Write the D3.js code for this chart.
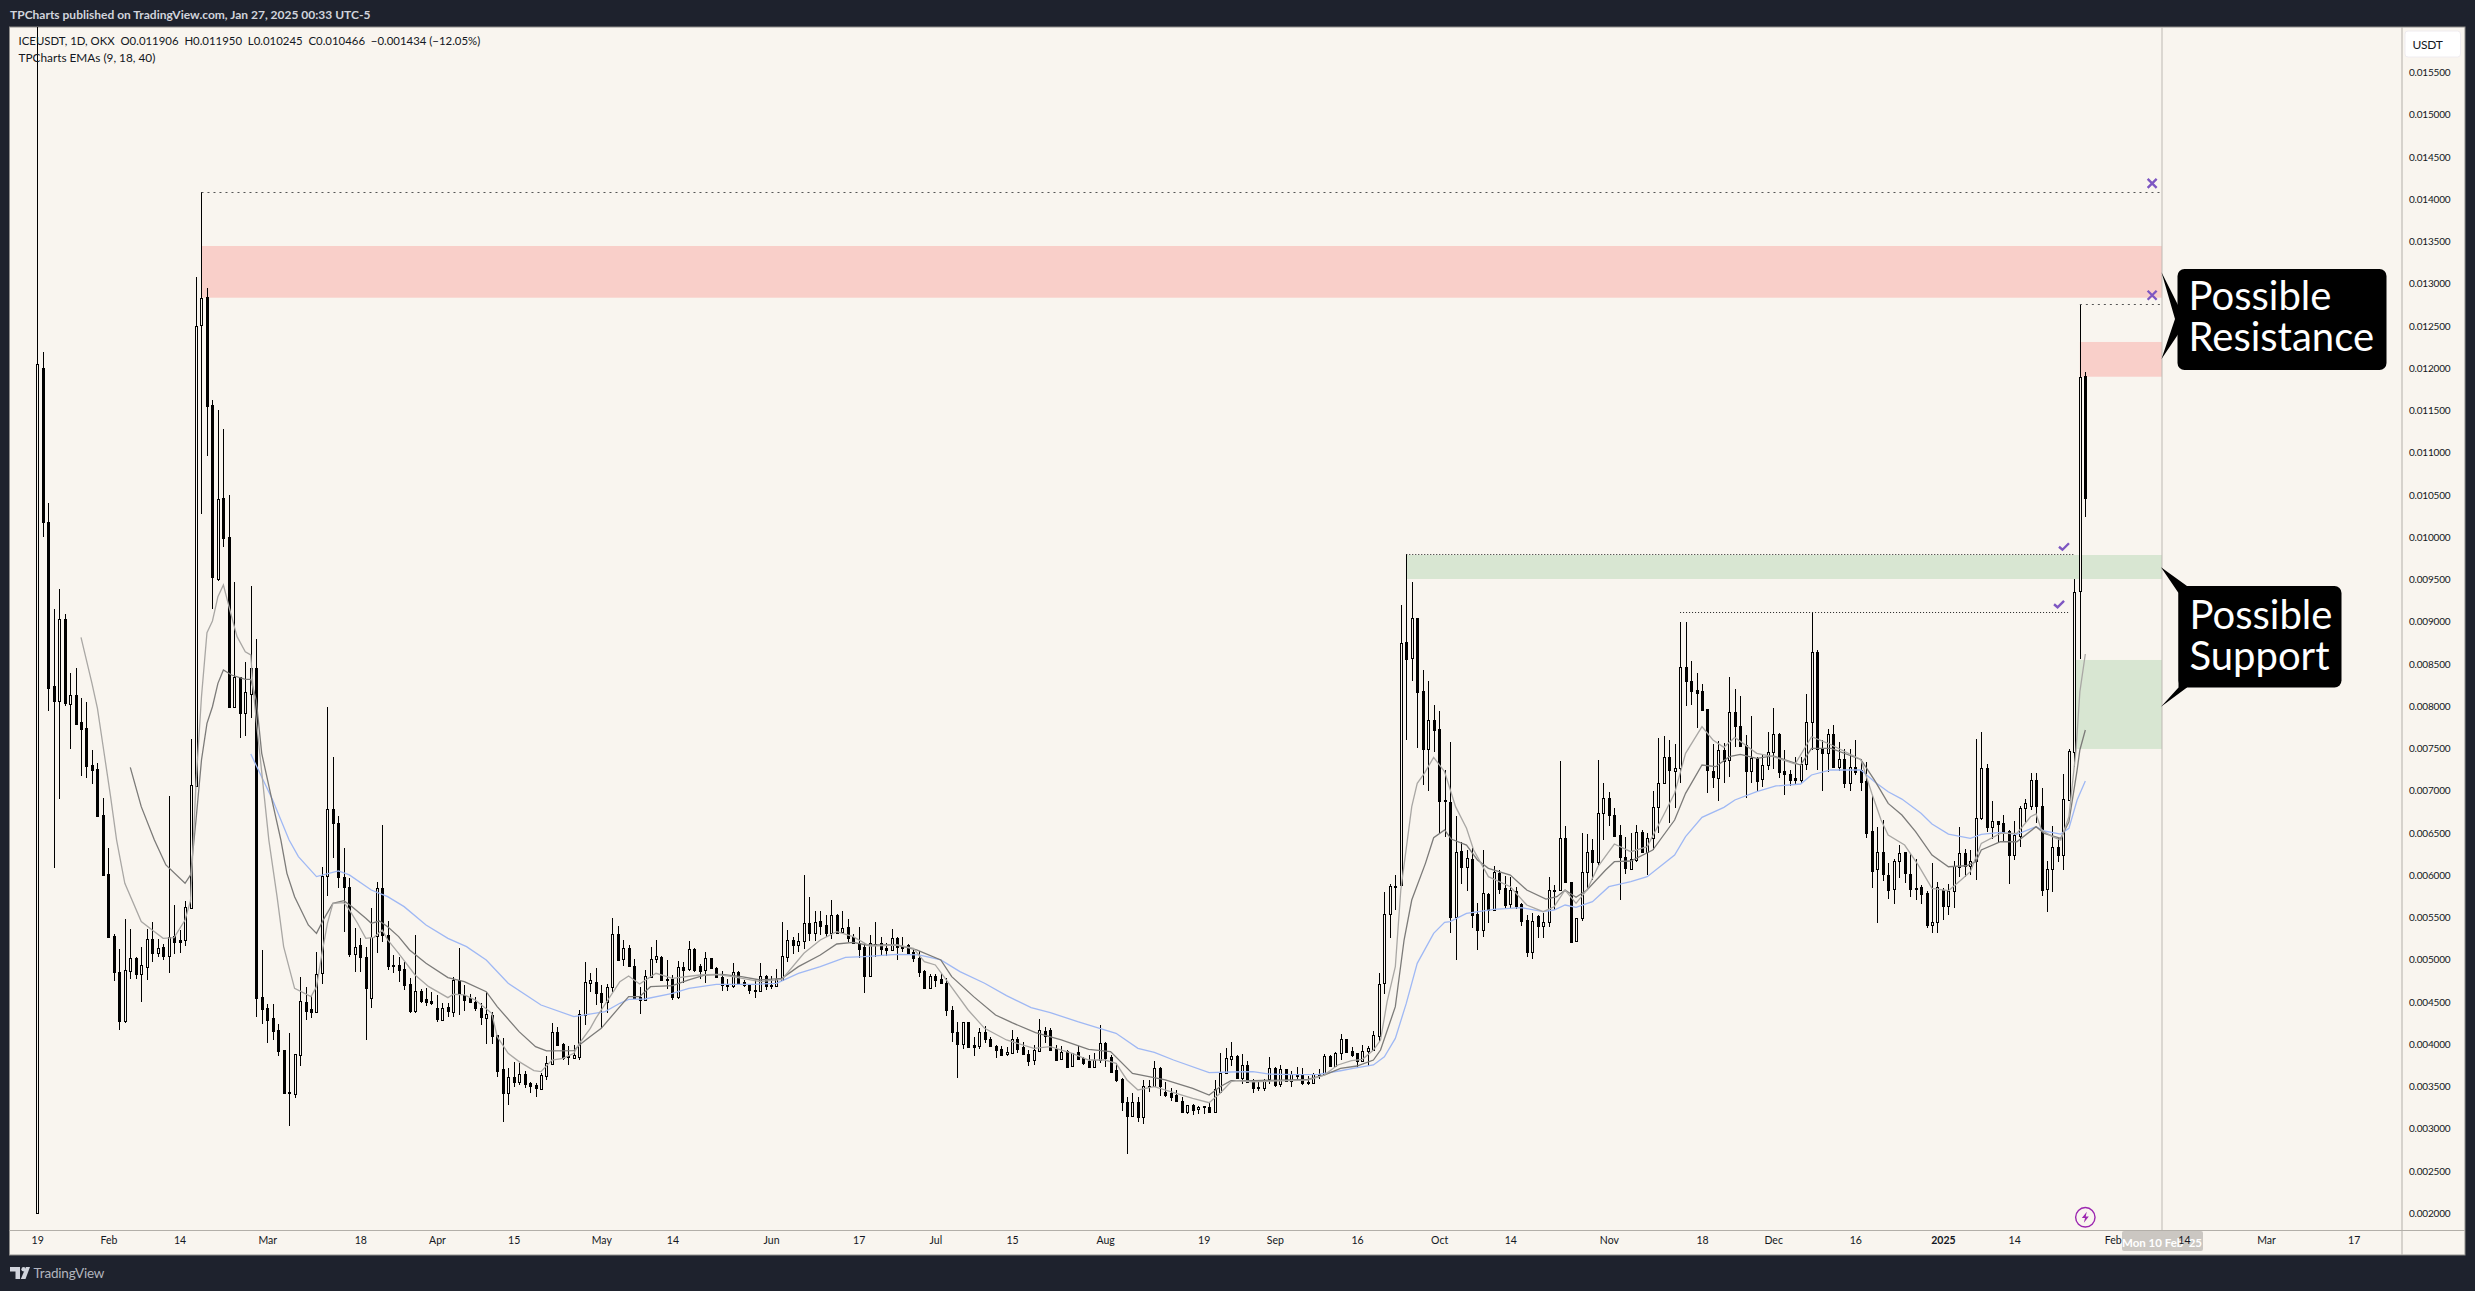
<!DOCTYPE html>
<html>
<head>
<meta charset="utf-8">
<script src="https://d3js.org/d3.v7.min.js"></script>
<style>
    html, body { margin: 0; padding: 0; background: #1e222d; }
    svg { display: block; }
    text { font-family: Lato, "Noto Sans", sans-serif; }
</style>
</head>
<body>
<svg id="chart" width="2475" height="1291"></svg>
<script>
// Prices are in millionths of a USDT, days are counted from 19 Jan 2024.
const candleOpens = [
    2000,11999,10177,8240,8066,9029,8031,8129,7810,7739,
    7301,7254,6709,6016,5286,4856,4276,4872,5021,4832,
    4919,5246,5085,5156,5049,5278,5235,5231,5617,7060,
    12508,12843,11561,9506,10461,9999,7995,8342,7924,8149,
    8449,4556,4426,4307,4169,3933,3432,3412,3877,4497,
    4418,4386,4840,5992,6784,6615,5976,5866,5069,5175,
    5029,4552,5286,5846,5294,4935,4935,4891,4714,4394,
    4635,4532,4513,4434,4288,4438,4386,4761,4584,4544,
    4497,4426,4315,4347,4110,3708,3428,3609,3558,3645,
    3538,3518,3471,3629,3763,4142,4000,3862,3842,3854,
    4347,4730,4741,4603,4505,4674,5302,5006,5136,4931,
    4556,4524,4801,5006,5033,4769,4777,4564,4915,4887,
    5128,4931,4876,5021,4903,4801,4714,4694,4852,4734,
    4702,4643,4635,4808,4702,4694,4761,5037,5231,5179,
    5227,5436,5321,5455,5412,5321,5526,5325,5384,5266,
    5203,5148,4812,5191,5195,5140,5116,5258,5163,5171,
    5088,5025,4868,4670,4804,4769,4730,4406,4142,4008,
    4260,3992,3984,4142,4063,3984,3941,3881,3901,4059,
    3964,3881,3810,3925,4161,4169,3941,3826,3917,3747,
    3905,3834,3806,3735,3814,4012,3846,3696,3589,3321,
    3156,3321,3136,3511,3511,3724,3432,3420,3400,3329,
    3203,3278,3230,3266,3254,3199,3439,3656,3822,3861,
    3605,3751,3561,3494,3478,3585,3715,3526,3703,3569,
    3644,3636,3553,3546,3640,3652,3857,3747,3893,4062,
    3916,3897,3806,3916,3932,4098,4721,5538,5877,5881,
    8757,8568,9041,8181,7495,7838,7731,6887,6863,5510,
    6287,6102,6193,5542,5352,5778,5589,6031,5845,5656,
    5814,5656,5471,5088,5522,5404,5451,5826,5826,6445,
    5917,5222,5490,6035,6299,6161,6733,6911,6709,6477,
    6220,6074,6181,6508,6279,6445,6804,7096,7404,7238,
    7274,8461,8303,8193,8181,7964,7234,7155,7483,7364,
    7928,7771,7542,7238,7384,7135,7305,7463,7672,7234,
    7195,7147,7127,7313,7810,8639,7495,7451,7668,7285,
    7372,7088,7278,7246,7115,6524,6070,6271,6003,5833,
    6165,6271,6015,5845,5857,5786,5415,5443,5829,5640,
    5810,6101,6259,6105,6172,6674,7265,6575,6638,6614,
    6520,6236,6464,6792,6823,7127,6819,5841,6074,6338,
    6236,6887,7455,9364,11906
];
const candleHighs = [
    16300,12192,10402,9151,9388,9092,8394,8453,8094,8047,
    7482,7325,6910,6319,5302,5128,5479,5365,5029,5156,
    5365,5444,5246,5183,6938,5645,5353,5700,7613,13084,
    14090,12946,11624,11506,11281,10500,9467,8350,8520,9423,
    8796,5116,4477,4477,4236,3933,4130,3885,4793,4678,
    4572,5089,6095,7987,7396,6701,6319,5964,5373,5254,
    5148,5609,5925,6595,5459,5057,5037,4978,4781,5294,
    4655,4662,4623,4584,4485,4485,4793,5136,4702,4595,
    4564,4485,4623,4386,4110,4071,3716,3787,3775,3684,
    3550,3538,3656,3862,4256,4201,4010,3984,3992,4406,
    4970,4840,4899,4702,4714,5491,5404,5235,5175,5006,
    4674,4879,5156,5235,5040,4998,4820,4990,4978,5223,
    5135,4950,5089,5025,4919,4868,4769,4958,4872,4761,
    4715,4761,4958,4820,4808,4887,5444,5353,5274,5313,
    6004,5739,5578,5578,5530,5704,5540,5574,5479,5300,
    5392,5195,5294,5444,5274,5195,5365,5265,5274,5185,
    5115,5108,4880,4828,4828,4828,4780,4453,4268,4268,
    4268,4090,4197,4217,4090,3992,3980,3972,4170,4090,
    4031,3933,3992,4299,4201,4197,3992,3984,3933,3893,
    3980,3854,3874,3893,4228,4024,3874,3775,3597,3380,
    3420,3380,3578,3578,3802,3735,3558,3479,3459,3380,
    3285,3290,3274,3270,3301,3578,3893,3952,4023,3870,
    3881,3798,3585,3577,3585,3845,3735,3751,3710,3684,
    3731,3719,3624,3655,3703,3881,3870,3912,4118,4068,
    3964,3900,3991,3979,4157,4847,5798,5893,6003,9199,
    9802,9467,9050,8429,8299,8015,7944,7246,7573,6701,
    6390,6300,6319,5668,6299,5786,6110,6062,5991,5984,
    5865,5670,5530,5557,5530,5550,5984,5885,7352,6583,
    5925,5490,6496,6488,6429,7364,7088,6982,6800,6595,
    6457,6496,6595,6536,6504,6997,7621,7648,7601,7554,
    8994,8994,8536,8390,8260,7970,7554,7589,7570,8351,
    8205,8122,7660,7885,7404,7424,7700,7976,7688,7483,
    7250,7396,7404,8145,9120,8666,7601,7727,7778,7581,
    7491,7494,7601,7372,7336,6950,6575,6654,6141,6188,
    6358,6280,6259,6192,5881,5810,6141,5916,5845,5892,
    6165,6571,6310,6299,7608,7691,7313,6879,6645,6709,
    6530,6642,6819,6902,7206,7206,7029,6172,6583,6437,
    7194,7490,9506,12761,11950
];
const candleLows = [
    2000,10000,7944,6090,6906,8003,7498,7794,7179,7155,
    7084,6705,6008,5266,4753,4169,4256,4773,4773,4505,
    4761,4970,5029,4998,4848,5069,5085,5163,5617,7060,
    10275,10962,9151,9487,9885,7987,7995,7628,7652,7865,
    4327,4236,4012,4051,3866,3412,3037,3361,3747,4288,
    4307,4367,4710,5755,6201,5846,5333,5029,4860,4852,
    4051,4434,5085,5207,4879,4848,4741,4643,4367,4367,
    4485,4457,4465,4268,4288,4327,4327,4347,4394,4485,
    4394,4228,4004,4004,3617,3081,3282,3499,3518,3479,
    3428,3380,3459,3578,3755,3992,3814,3755,3840,3814,
    4228,4615,4465,4197,4367,4623,4980,4927,4927,4536,
    4363,4520,4801,4958,4753,4655,4524,4532,4722,4872,
    4860,4777,4722,4887,4781,4631,4631,4662,4715,4682,
    4592,4552,4630,4643,4655,4674,4761,4978,5069,5096,
    5128,5227,5227,5294,5274,5246,5321,5320,5215,5195,
    5025,4611,4812,5037,5049,5049,5108,4998,5096,5070,
    4978,4801,4670,4662,4682,4710,4339,4031,3605,3941,
    3955,3866,3941,4012,3975,3842,3866,3866,3893,3893,
    3870,3747,3755,3905,4012,3925,3806,3814,3724,3735,
    3826,3755,3727,3716,3775,3735,3668,3550,3215,2706,
    3144,3085,3057,3440,3499,3388,3380,3333,3329,3195,
    3175,3167,3171,3171,3183,3195,3430,3650,3743,3585,
    3526,3545,3427,3451,3451,3530,3498,3498,3550,3498,
    3577,3514,3514,3540,3593,3650,3740,3740,3814,3900,
    3853,3715,3795,3743,3925,4031,4591,5262,5589,5875,
    7601,8303,7502,7068,7001,7463,6496,6457,5321,4997,
    5897,5818,5372,5116,5273,5431,5585,5778,5601,5609,
    5605,5404,5037,5005,5254,5254,5392,5589,5818,5905,
    5206,5214,5459,5826,5944,6114,6417,6587,6457,5707,
    6015,6060,6160,6267,6003,6299,6504,7088,6615,6792,
    7088,8007,8015,7739,7956,6970,7029,6883,7096,7159,
    7522,7520,6911,7096,7001,7041,7246,7254,7155,6950,
    7061,7068,7096,7246,7483,7246,7001,7226,7275,7238,
    7029,7001,7187,7001,6445,5853,5439,5932,5719,5660,
    5971,5912,5746,5707,5660,5380,5320,5320,5470,5530,
    5616,5983,5983,6003,5944,6660,6508,6429,6389,6389,
    5896,6180,6338,6614,6772,6622,5754,5569,5806,6153,
    6062,6880,7285,8560,10245
];
const candleCloses = [
    12046,10177,8220,8066,9029,8035,8129,7794,7735,7297,
    7246,6705,6008,5266,4860,4280,4875,5018,4828,4935,
    5242,5077,5136,5049,5274,5215,5215,5621,7064,12496,
    12827,11557,9534,10449,9995,7987,8342,7924,8165,8449,
    4552,4414,4288,4161,3925,3420,3424,3885,4509,4398,
    4386,4828,5992,6780,6622,5976,5866,5069,5156,5037,
    4670,5274,5846,5294,4927,4930,4879,4702,4394,4631,
    4509,4501,4485,4300,4426,4394,4761,4595,4525,4501,
    4434,4327,4355,4098,3688,3420,3609,3558,3645,3526,
    3511,3479,3637,3775,4142,3992,3834,3855,3874,4355,
    4733,4757,4603,4505,4674,5302,4998,5136,4927,4552,
    4524,4808,5006,5041,4761,4765,4564,4911,4883,5128,
    4880,4872,5021,4899,4793,4702,4694,4852,4722,4698,
    4643,4640,4804,4694,4698,4769,5041,5231,5175,5227,
    5432,5321,5444,5404,5321,5526,5321,5380,5262,5203,
    5132,4812,5195,5188,5132,5120,5254,5156,5144,5077,
    5025,4860,4670,4808,4761,4722,4406,4150,4004,4260,
    3972,3972,4142,4067,3984,3933,3874,3909,4059,3945,
    3881,3806,3933,4165,4102,3933,3814,3913,3735,3893,
    3826,3783,3735,3814,4012,3834,3676,3578,3321,3156,
    3313,3144,3511,3505,3724,3507,3400,3380,3333,3203,
    3278,3222,3258,3260,3199,3467,3656,3834,3857,3605,
    3751,3550,3486,3488,3581,3715,3514,3703,3569,3644,
    3624,3546,3548,3644,3644,3857,3747,3893,4058,3908,
    3877,3806,3916,3952,4106,4709,5538,5873,5870,8745,
    8564,9041,8173,7495,7838,7719,6883,6880,5510,6272,
    6102,6200,5530,5352,5786,5589,6035,5838,5648,5826,
    5640,5463,5096,5463,5404,5451,5826,5820,6445,5924,
    5214,5490,6043,6279,6161,6733,6911,6713,6469,6220,
    6082,6189,6516,6279,6445,6804,7088,7404,7246,7266,
    8461,8303,8185,8153,7956,7246,7167,7483,7356,7928,
    7771,7534,7238,7384,7120,7305,7455,7672,7226,7195,
    7127,7127,7317,7810,8639,7495,7451,7668,7285,7372,
    7088,7278,7226,7107,6504,6054,6271,6011,5825,6165,
    6259,6023,5841,5840,5782,5415,5443,5857,5640,5810,
    6105,6259,6113,6165,6674,7265,6575,6638,6610,6508,
    6236,6472,6792,6851,7127,6819,5825,6070,6330,6240,
    6898,7470,9356,11900,10466
];

// [day, price] readings along the three EMA lines
const ema9Points = [
    [8,8816],[10,8271],[11,7976],[12,7542],[13.4,6930],[14.5,6417],[16,5905],[19,5452],[21,5353],[23,5254],
    [25,5262],[27,5471],[28,5700],[29,7088],[30,8114],[31,8871],[32,9009],[33,9297],[34,9435],[35.5,9060],
    [36.5,8824],[38,8646],[39,8607],[39.4,8232],[40,7838],[42.3,6417],[43.8,5747],[45,5156],[47,4662],[50,4564],
    [51,4682],[52,5077],[53,5432],[54,5668],[56,5676],[57,5590],[58.5,5432],[60,5254],[61.5,5266],[63,5353],
    [64,5235],[66,5077],[69,4820],[71.5,4682],[75,4552],[76,4592],[78,4584],[80,4524],[83,4367],[84,4090],
    [86,3893],[88,3795],[90.7,3688],[92,3676],[94,3814],[96,3834],[98,3893],[99,4012],[101,4189],[102,4307],
    [104.4,4544],[106.4,4741],[108,4808],[110,4714],[113,4840],[116,4781],[121,4820],[124,4828],[127,4801],[132,4741],
    [136,4769],[140,5077],[143,5235],[146,5333],[149,5274],[152,5163],[157,5175],[160,5136],[162,4978],[164,4939],
    [166,4761],[170,4406],[173,4189],[177,4051],[182,3952],[185,3972],[189,3893],[192,3814],[195,3814],[197,3775],
    [199,3578],[201,3459],[204,3499],[208,3420],[211,3361],[214,3309],[216,3420],[218,3557],[219,3569],[222,3557],
    [232,3577],[235,3636],[237.5,3755],[240,3806],[242,3822],[244,3932],[245.3,4050],[246.5,4504],[248,4918],[249,5826],
    [251,6812],[252,7088],[253.3,7206],[255,7396],[257,7226],[259,6812],[261,6556],[262.3,6299],[265,5984],[269,5865],
    [272,5648],[275,5569],[277,5628],[279,5826],[281,5668],[283,5826],[285,6102],[288,6370],[291,6279],[294,6339],
    [297,6713],[299,6970],[301,7443],[304,7759],[306,7601],[308,7514],[310,7632],[314,7443],[317,7404],[321,7317],
    [324,7640],[327,7562],[333,7372],[335,6970],[336.7,6654],[338,6476],[341,6358],[343.5,6121],[346,5845],[349,5817],
    [351.3,5944],[353,6042],[355,6378],[358.5,6496],[361.5,6496],[364,6693],[365,6725],[366,6535],[368,6457],[369.5,6417],
    [371,6693],[372.3,7482],[373,8170],[374,8619]
];
const ema18Points = [
    [17,7277],[19,6812],[21.4,6417],[23.5,6122],[27,5905],[28,6004],[29,6654],[30,7364],[31,7798],[32,7995],
    [33,8271],[34,8429],[35.5,8370],[38,8319],[39,8319],[40,8074],[41,7443],[43,6851],[44.5,6417],[45.6,6023],
    [47,5747],[49.5,5412],[51,5313],[52.4,5491],[54,5668],[56,5700],[57.5,5629],[60,5491],[61,5432],[62.5,5459],
    [64,5392],[66,5274],[68,5116],[71,4958],[75,4789],[78,4741],[82,4623],[84,4446],[88,4150],[91,3972],
    [93,3921],[98,3925],[99,3992],[101,4091],[103,4189],[106.4,4446],[108,4564],[110,4564],[112,4682],[116,4694],
    [119,4761],[122,4820],[125,4828],[128.6,4801],[132,4761],[136,4781],[139,4919],[143,5057],[146,5187],[149,5207],
    [151.5,5175],[157,5175],[160.6,5116],[165,4998],[167,4801],[171,4564],[175,4347],[178,4256],[182.3,4138],[187,4051],
    [192,3940],[196,3913],[200,3656],[203,3617],[206,3578],[211,3479],[214,3400],[216,3498],[218,3570],[222,3569],
    [227,3577],[232,3585],[235,3636],[238,3715],[241,3743],[244,3814],[245.3,3932],[248,4445],[249.6,5234],[251,5707],
    [253.5,6141],[255,6445],[257,6536],[258.2,6429],[261,6358],[263,6181],[265,6082],[269,6003],[272,5826],[275.5,5719],
    [277.5,5747],[279,5826],[281,5739],[283,5826],[286.4,6062],[288,6161],[291,6169],[295,6299],[299,6654],[301,6970],
    [304,7305],[306.5,7285],[309,7404],[311,7431],[314,7384],[317,7412],[322,7305],[324,7502],[327.6,7502],[333,7370],
    [335.5,7127],[338,6851],[340.5,6713],[343,6516],[346,6240],[349,6101],[352.3,6113],[354,6161],[355,6299],[358.5,6397],
    [361.5,6397],[365,6575],[366.5,6496],[369.5,6437],[371,6634],[372.5,7245],[373,7483],[374,7719]
];
const ema40Points = [
    [39,7435],[43,6891],[46,6417],[47.7,6221],[51,5984],[55,6051],[57,6004],[61,5826],[64,5747],[67,5629],
    [71,5412],[75,5254],[78.4,5156],[82,4998],[86,4722],[92,4465],[98,4327],[103.7,4386],[106.4,4485],[108,4532],
    [111,4536],[116,4603],[119,4662],[124,4710],[131,4710],[135,4722],[139,4840],[143,4919],[147.6,5029],[151,5037],
    [157,5065],[161,5057],[165,4998],[168.5,4860],[173,4722],[177,4576],[181.5,4434],[185,4375],[190,4268],[194,4189],
    [197,4130],[201,3952],[204,3905],[207.5,3814],[214,3664],[218,3672],[222,3676],[225,3648],[229.5,3640],[234,3644],
    [238,3687],[240.3,3715],[244,3755],[246,3853],[248,4070],[250,4484],[252,4958],[255,5313],[257,5443],[258,5451],
    [261,5550],[266,5597],[271,5617],[275,5569],[277,5589],[279,5648],[281,5620],[284,5688],[287,5865],[291,5924],
    [294,5984],[299,6240],[301,6457],[304,6686],[308,6804],[310,6891],[314,6989],[317.5,7057],[322,7080],[324,7187],
    [327.5,7246],[333,7246],[335.5,7107],[338,6989],[340.5,6902],[344,6733],[346,6606],[349,6488],[353,6437],[355,6484],
    [358.5,6508],[361.5,6484],[365,6575],[366.5,6524],[369.5,6488],[371,6555],[372.5,6890],[374,7115]
];

const yTickValues = d3.range(2000, 15501, 500);
const xTickDays = [0,13,26,42,59,73,87,103,116,134,150,164,178,195,213,226,241,256,269,287,304,317,332,348,361,379,392,407,423];
const xTickLabels = ["19","Feb","14","Mar","18","Apr","15","May","14","Jun","17","Jul","15","Aug","19","Sep","16","Oct","14","Nov","18","Dec","16","2025","14","Feb","14","Mar","17"];

// zones: from day, to day, top price, bottom price
const resistanceZones = [[30,388,13447,12835],[373,388,12311,11900]];
const supportZones = [[250,388,9790,9506],[372,388,8548,7495]];
// level lines: from day, to day, price
const greyLevels = [[30,387.7,14090],[373,387.7,12761]];
const blackLevels = [[250,372,9800],[300,371,9112]];
const crossMarks = [[386.2,14189],[386.2,12864]];
const checkMarks = [[370.1,9888],[369.2,9207]];
const lightningDay = 374;
const lightningPrice = 1953;
const crosshairDay = 388;

const paper = "#f9f5ef";
const frame = "#b3afa9";
const plotLeft = 9.5, plotTop = 27, plotRight = 2401.5, plotBottom = 1230, boxRight = 2465, boxBottom = 1255;

const x = d3.scaleLinear().domain([0, 388]).range([37.2, 2162]);
const y = d3.scaleLinear().domain([2000, 15500]).range([1213.3, 72.5]);

const svg = d3.select("#chart");

// frame
svg.append("rect").attr("width", 2475).attr("height", 1291).attr("fill", "#1e222d");
svg.append("rect")
    .attr("x", plotLeft).attr("y", plotTop)
    .attr("width", boxRight - plotLeft).attr("height", boxBottom - plotTop)
    .attr("fill", paper).attr("stroke", "#8f8e8c");
svg.append("defs").append("clipPath").attr("id", "plot-clip")
    .append("rect")
    .attr("x", plotLeft).attr("y", plotTop)
    .attr("width", plotRight - plotLeft).attr("height", plotBottom - plotTop);

const plot = svg.append("g").attr("clip-path", "url(#plot-clip)");

function drawZones(zones, color) {
    plot.append("g").selectAll("rect").data(zones).enter().append("rect")
        .attr("x", (d) => x(d[0]))
        .attr("width", (d) => x(d[1]) - x(d[0]))
        .attr("y", (d) => y(d[2]))
        .attr("height", (d) => y(d[3]) - y(d[2]))
        .attr("fill", color);
}
drawZones(resistanceZones, "#f9cfc9");
drawZones(supportZones, "#d8e6d2");

plot.append("line")
    .attr("x1", x(crosshairDay)).attr("x2", x(crosshairDay))
    .attr("y1", plotTop).attr("y2", plotBottom)
    .attr("stroke", "#bdb9b3").attr("stroke-width", 1);

// candles
const candles = d3.range(candleOpens.length).map((i) => ({
    day: i,
    open: candleOpens[i],
    high: candleHighs[i],
    low: candleLows[i],
    close: candleCloses[i],
}));
const candle = plot.append("g").selectAll("g").data(candles).enter().append("g");
candle.append("line")
    .attr("x1", (d) => Math.round(x(d.day)) + 0.5)
    .attr("x2", (d) => Math.round(x(d.day)) + 0.5)
    .attr("y1", (d) => Math.round(y(d.high)))
    .attr("y2", (d) => Math.round(y(d.low)))
    .attr("stroke", "#000").attr("stroke-width", 1);
candle.append("rect")
    .attr("x", (d) => Math.round(x(d.day)) - 0.5)
    .attr("width", 2)
    .attr("y", (d) => Math.round(y(Math.max(d.open, d.close))) + 0.5)
    .attr("height", (d) => Math.max(1, Math.round(y(Math.min(d.open, d.close))) - Math.round(y(Math.max(d.open, d.close)))))
    .attr("fill", (d) => (d.close > d.open ? paper : "#000"))
    .attr("stroke", "#000").attr("stroke-width", 1);

// EMA lines
const emaLine = d3.line().x((d) => x(d[0])).y((d) => y(d[1]));
[
    [ema40Points, "#9fb8f4"],
    [ema18Points, "#7c7b79"],
    [ema9Points, "#a9a7a4"],
].forEach(([points, color]) => {
    plot.append("path")
        .attr("d", emaLine(points))
        .attr("fill", "none").attr("stroke", color).attr("stroke-width", 1.3);
});

// traced levels and their marks
function drawLevels(levels, color, dash) {
    plot.append("g").selectAll("line").data(levels).enter().append("line")
        .attr("x1", (d) => x(d[0])).attr("x2", (d) => x(d[1]))
        .attr("y1", (d) => Math.round(y(d[2])) + 0.5).attr("y2", (d) => Math.round(y(d[2])) + 0.5)
        .attr("stroke", color).attr("stroke-dasharray", dash);
}
drawLevels(greyLevels, "#555", "2 4");
drawLevels(blackLevels, "#222", "1 2");

plot.append("g").selectAll("path").data(crossMarks).enter().append("path")
    .attr("transform", (d) => `translate(${x(d[0])},${y(d[1])})`)
    .attr("d", "M-4.5,-4.5L4.5,4.5M4.5,-4.5L-4.5,4.5")
    .attr("fill", "none").attr("stroke", "#7e57c2").attr("stroke-width", 2.4);
plot.append("g").selectAll("path").data(checkMarks).enter().append("path")
    .attr("transform", (d) => `translate(${x(d[0])},${y(d[1])})`)
    .attr("d", "M-5,0L-1.5,3L5,-3.5")
    .attr("fill", "none").attr("stroke", "#7e57c2").attr("stroke-width", 2.4);

const bolt = svg.append("g")
    .attr("transform", `translate(${x(lightningDay)},${y(lightningPrice)})`);
bolt.append("circle").attr("r", 9.7).attr("fill", "none").attr("stroke", "#9c27b0").attr("stroke-width", 1.4);
bolt.append("path").attr("d", "M1.5,-5.5L-3.5,0.8H-0.3L-1.5,5.5L3.5,-0.8H0.3Z").attr("fill", "#9c27b0");

// axes
svg.append("line").attr("x1", plotLeft).attr("x2", boxRight).attr("y1", plotBottom + 0.5).attr("y2", plotBottom + 0.5).attr("stroke", frame);
svg.append("line").attr("x1", plotRight + 0.5).attr("x2", plotRight + 0.5).attr("y1", plotTop).attr("y2", boxBottom).attr("stroke", frame);

// crosshair date pill sits under the axis labels
svg.append("rect")
    .attr("x", x(crosshairDay) - 40).attr("y", plotBottom + 1)
    .attr("width", 81).attr("height", 20).attr("rx", 2)
    .attr("fill", "#cbc7c2");
svg.append("text")
    .attr("x", x(crosshairDay)).attr("y", 1247)
    .attr("text-anchor", "middle")
    .attr("font-size", 11.5).attr("font-weight", 700).attr("fill", "#fff")
    .text("Mon 10 Feb '25");

const xAxis = d3.axisBottom(x)
    .tickValues(xTickDays)
    .tickFormat((d, i) => xTickLabels[i])
    .tickSize(0).tickPadding(7);
const xAxisG = svg.append("g").attr("transform", `translate(0,${plotBottom})`).call(xAxis);
xAxisG.select(".domain").remove();
xAxisG.selectAll("text")
    .attr("font-family", "Lato, sans-serif").attr("font-size", 10.5).attr("fill", "#131722")
    .attr("font-weight", (d, i) => (xTickLabels[i] === "2025" ? 700 : 400));

const yAxis = d3.axisRight(y)
    .tickValues(yTickValues)
    .tickFormat((d) => (d / 1e6).toFixed(6))
    .tickSize(0).tickPadding(7.5);
const yAxisG = svg.append("g").attr("transform", `translate(${plotRight},0)`).call(yAxis);
yAxisG.select(".domain").remove();
yAxisG.selectAll("text")
    .attr("font-family", "Lato, sans-serif").attr("font-size", 10).attr("letter-spacing", -0.2).attr("fill", "#131722");

svg.append("rect")
    .attr("x", 2405).attr("y", 31).attr("width", 55.5).attr("height", 26).attr("rx", 3)
    .attr("fill", "#fff").attr("stroke", "#efecf0");
svg.append("text")
    .attr("x", 2427.5).attr("y", 49)
    .attr("text-anchor", "middle").attr("font-size", 12).attr("letter-spacing", -0.3).attr("fill", "#131722")
    .text("USDT");

// header, legend, footer
svg.append("text").attr("x", 10).attr("y", 19)
    .attr("font-size", 12).attr("font-weight", 700).attr("fill", "#d1d4dc")
    .text("TPCharts published on TradingView.com, Jan 27, 2025 00:33 UTC-5");
svg.append("text").attr("x", 18.5).attr("y", 45)
    .attr("font-size", 11.4).attr("fill", "#131722").attr("xml:space", "preserve")
    .text("ICEUSDT, 1D, OKX  O0.011906  H0.011950  L0.010245  C0.010466  \u22120.001434 (\u221212.05%)");
svg.append("text").attr("x", 18.5).attr("y", 62)
    .attr("font-size", 11.8).attr("fill", "#131722")
    .text("TPCharts EMAs (9, 18, 40)");

const logo = svg.append("g").attr("fill", "#d1d4dc");
logo.append("path").attr("d", "M10,1267H20V1279H15.5V1271.5H10Z");
logo.append("circle").attr("cx", 23.6).attr("cy", 1269.2).attr("r", 2.2);
logo.append("path").attr("d", "M26,1267H30L25.5,1279H20.8Z");
svg.append("text").attr("x", 33.5).attr("y", 1278)
    .attr("font-size", 13.5).attr("letter-spacing", -0.2).attr("fill", "#b2b5be")
    .text("TradingView");

// callouts
function callout(box, pointer, lines, baseline) {
    const g = svg.append("g");
    g.append("rect")
        .attr("x", box.x).attr("y", box.y)
        .attr("width", box.w).attr("height", box.h)
        .attr("rx", 7).attr("fill", "#000");
    g.append("polygon").attr("points", pointer).attr("fill", "#000");
    g.selectAll("text").data(lines).enter().append("text")
        .attr("x", box.x + 11)
        .attr("y", (d, i) => box.y + baseline + i * 40.5)
        .attr("font-size", 40).attr("fill", "#fff")
        .text((d) => d);
}
callout(
    { x: 2177.5, y: 269, w: 209, h: 101 },
    "2161.5,272.3 2179,307 2179,333 2161.5,359 2175,319",
    ["Possible", "Resistance"],
    41
);
callout(
    { x: 2178.5, y: 586, w: 163, h: 101.5 },
    "2161,567.3 2187,586 2187,687.5 2161,706.7 2178.5,687.5 2178.5,593",
    ["Possible", "Support"],
    43
);
</script>
</body>
</html>
